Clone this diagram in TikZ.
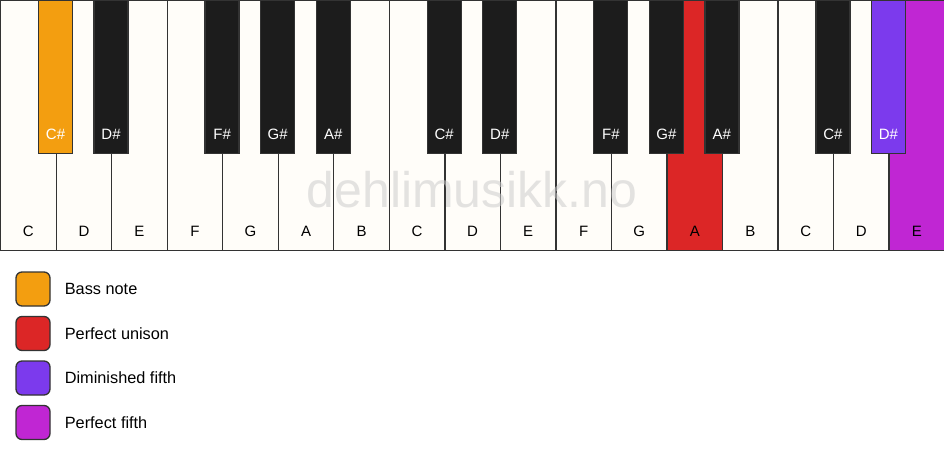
\documentclass[tikz,border=0pt]{standalone}
\usepackage{fontspec}
\setmainfont{Liberation Sans}
\usetikzlibrary{positioning}
\definecolor{keywhite}{HTML}{FFFDF9}
\definecolor{keyblack}{HTML}{1C1C1C}
\definecolor{bassorange}{HTML}{F39E10}
\definecolor{unisonred}{HTML}{DC2626}
\definecolor{dimviolet}{HTML}{7C3AED}
\definecolor{fifthmagenta}{HTML}{C026D3}
\definecolor{outline}{HTML}{333333}
\tikzstyle{whitekey}=[rectangle,draw=outline,line width=1.3pt,fill=keywhite,minimum width=55.53pt,minimum height=250pt,anchor=north west,inner sep=0pt]
\tikzstyle{blackkey}=[rectangle,draw=outline,line width=1.3pt,fill=keyblack,minimum width=34pt,minimum height=153pt,anchor=north,inner sep=0pt]
\tikzstyle{whitelabel}=[font=\fontsize{15}{18}\selectfont,text=black,inner sep=0pt]
\tikzstyle{blacklabel}=[font=\fontsize{15}{18}\selectfont,text=white,inner sep=0pt]
\tikzstyle{swatch}=[rectangle,rounded corners=6pt,draw=outline,line width=1.3pt,minimum size=34pt,inner sep=0pt]
\tikzstyle{legendtext}=[font=\fontsize{16.3}{19}\selectfont,anchor=west,inner sep=0pt]
\tikzstyle{watermark}=[font=\fontsize{50}{58}\selectfont,text=gray!40,opacity=0.55,anchor=base]

\begin{document}
\begin{tikzpicture}[x=1pt,y=-1pt]
    \useasboundingbox[fill=white] (0,0) rectangle (944,461);

    % white keys
    \foreach \i/\name/\col in {0/C/keywhite, 1/D/keywhite, 2/E/keywhite, 3/F/keywhite, 4/G/keywhite, 5/A/keywhite, 6/B/keywhite,
        7/C/keywhite, 8/D/keywhite, 9/E/keywhite, 10/F/keywhite, 11/G/keywhite, 12/A/unisonred, 13/B/keywhite,
        14/C/keywhite, 15/D/keywhite, 16/E/fifthmagenta}
    {
        \node[whitekey, fill=\col] (w\i) at (\i*55.53, 0) {};
        \node[whitelabel] (wl\i) at ([yshift=20pt]w\i.south) {\name};
    }

    \node[watermark] (mark) at (472,207) {dehlimusikk.no};

    % black keys
    \foreach \i/\name/\col in {1/C\#/bassorange, 2/D\#/keyblack, 4/F\#/keyblack, 5/G\#/keyblack, 6/A\#/keyblack,
        8/C\#/keyblack, 9/D\#/keyblack, 11/F\#/keyblack, 12/G\#/keyblack, 13/A\#/keyblack,
        15/C\#/keyblack, 16/D\#/dimviolet}
    {
        \node[blackkey, fill=\col] (b\i) at (\i*55.53, 0) {};
        \node[blacklabel] (bl\i) at ([yshift=20pt]b\i.south) {\name};
    }

    % legend
    \foreach \y/\name/\col/\text in {289/bass/bassorange/Bass note, 333.5/unison/unisonred/Perfect unison,
        378/dim/dimviolet/Diminished fifth, 422.5/fifth/fifthmagenta/Perfect fifth}
    {
        \node[swatch, fill=\col] (s\name) at (33,\y) {};
        \node[legendtext, right=14pt of s\name] (t\name) {\text};
    }

\end{tikzpicture}
\end{document}
